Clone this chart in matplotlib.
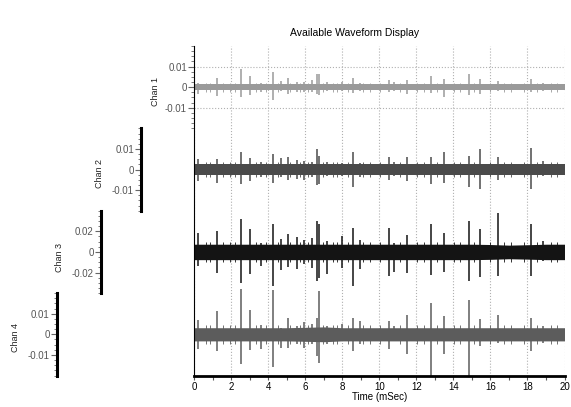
import matplotlib
matplotlib.use('Agg')
from matplotlib import pyplot as plt
from matplotlib.ticker import MultipleLocator, FixedLocator, FixedFormatter

plt.rcParams['font.family'] = ['Liberation Sans', 'DejaVu Sans']
plt.rcParams['axes.unicode_minus'] = False

'''Waveform data read off the display: spike times shared by all channels,
per-channel spike heights (up / down from baseline) and noise envelope'''
spike_t = [0.19, 1.25, 2.55, 3.0, 3.64, 4.29, 4.72, 5.10, 5.57, 5.95, 6.36, 6.63, 6.74, 7.16,
           7.99, 8.58, 8.96, 10.53, 10.80, 11.51, 12.79, 13.51, 14.86, 15.44, 16.40, 18.17, 18.84]

chan1_up = [0.0020, 0.0047, 0.0089, 0.0055, 0.0020, 0.0074, 0.0031, 0.0047, 0.0027, 0.0027, 0.0034, 0.0063, 0.0063, 0.0023,
            0.0023, 0.0047, 0.0020, 0.0036, 0.0027, 0.0036, 0.0055, 0.0042, 0.0063, 0.0042, 0.0031, 0.0042, 0.0020]
chan1_down = [0.0031, 0.0042, 0.0047, 0.0039, 0.0023, 0.0063, 0.0020, 0.0031, 0.0023, 0.0023, 0.0023, 0.0031, 0.0039, 0.0020,
              0.0019, 0.0028, 0.0019, 0.0023, 0.0019, 0.0031, 0.0028, 0.0050, 0.0039, 0.0031, 0.0019, 0.0023, 0.0019]

chan2_up = [0.0051, 0.0051, 0.0086, 0.0056, 0.0035, 0.0075, 0.0054, 0.0062, 0.0046, 0.0043, 0.0035, 0.0098, 0.0067, 0.0035,
            0.0030, 0.0087, 0.0030, 0.0063, 0.0035, 0.0059, 0.0062, 0.0083, 0.0067, 0.0098, 0.0063, 0.0103, 0.0040]
chan2_down = [0.0057, 0.0063, 0.0068, 0.0056, 0.0037, 0.0065, 0.0037, 0.0052, 0.0044, 0.0052, 0.0037, 0.0076, 0.0068, 0.0033,
              0.0033, 0.0087, 0.0037, 0.0052, 0.0033, 0.0056, 0.0071, 0.0065, 0.0087, 0.0095, 0.0049, 0.0095, 0.0033]

chan3_up = [0.0185, 0.0208, 0.0320, 0.0224, 0.0088, 0.0270, 0.0130, 0.0175, 0.0143, 0.0120, 0.0137, 0.0300, 0.0267, 0.0110,
            0.0153, 0.0228, 0.0120, 0.0234, 0.0088, 0.0163, 0.0270, 0.0185, 0.0305, 0.0218, 0.0380, 0.0267, 0.0110]
chan3_down = [0.0140, 0.0205, 0.0300, 0.0215, 0.0140, 0.0335, 0.0180, 0.0150, 0.0170, 0.0120, 0.0156, 0.0286, 0.0250, 0.0215,
              0.0156, 0.0335, 0.0170, 0.0230, 0.0190, 0.0200, 0.0220, 0.0190, 0.0280, 0.0247, 0.0230, 0.0237, 0.0090]

chan4_up = [0.0068, 0.0114, 0.0220, 0.0117, 0.0046, 0.0215, 0.0033, 0.0078, 0.0041, 0.0062, 0.0049, 0.0081, 0.0210, 0.0041,
            0.0052, 0.0081, 0.0065, 0.0065, 0.0041, 0.0093, 0.0150, 0.0089, 0.0166, 0.0073, 0.0093, 0.0081, 0.0041]
chan4_down = [0.0070, 0.0081, 0.0143, 0.0078, 0.0070, 0.0160, 0.0065, 0.0065, 0.0049, 0.0068, 0.0049, 0.0106, 0.0138, 0.0049,
              0.0033, 0.0081, 0.0049, 0.0073, 0.0033, 0.0098, 0.0200, 0.0094, 0.0200, 0.0057, 0.0041, 0.0081, 0.0041]

# small tics poking out of the noise band
minor_t = [0.66, 0.84, 1.56, 1.92, 2.19, 3.37, 3.91, 4.54, 5.17, 5.71, 6.16, 6.98, 7.52, 7.70, 8.33, 9.14,
           9.50, 10.04, 11.13, 12.03, 12.39, 13.11, 14.02, 14.38, 15.10, 16.00, 16.72, 17.09, 17.81, 18.53,
           19.25, 19.61]
chan_minor = [0.0022, 0.0038, 0.0095, 0.0045]

env_t = list(range(21))
chan1_env = [0.0016] * 21
chan2_env = [0.0028] * 21
chan3_env = [0.0075] * 16 + [0.0072, 0.0066, 0.0070, 0.0075, 0.0075]
chan4_env = [0.0032] * 6 + [0.0034, 0.0036] + [0.0032] * 13

chan_names = ['Chan 1', 'Chan 2', 'Chan 3', 'Chan 4']
chan_lims = [0.02, 0.02, 0.04, 0.02]
chan_steps = [0.01, 0.01, 0.02, 0.01]
chan_ticklabels = [['-0.01', '0', '0.01'], ['-0.01', '0', '0.01'], ['-0.02', '0', '0.02'], ['-0.01', '0', '0.01']]
chan_colors = ['#9a9a9a', '#4a4a4a', '#141414', '#5c5c5c']

ups = [chan1_up, chan2_up, chan3_up, chan4_up]
downs = [chan1_down, chan2_down, chan3_down, chan4_down]
envs = [chan1_env, chan2_env, chan3_env, chan4_env]

W, H = 571, 407
fig = plt.figure(figsize=(W / 100, H / 100), dpi=100)

left, right, top, bottom = 194, 564.5, 46, 375.5
ax = fig.add_axes([left / W, (H - bottom) / H, (right - left) / W, (bottom - top) / H])
ax.set_zorder(2)
ax.set_facecolor('none')
ax.set_axisbelow(True)

# each channel is drawn in a band of height 1, scaled to its own range
for k in range(4):
    off = 3.5 - k
    sc = 0.5 / chan_lims[k]
    lo = [off - e * sc for e in envs[k]]
    hi = [off + e * sc for e in envs[k]]
    ax.fill_between(env_t, lo, hi, color=chan_colors[k], lw=0, zorder=2)
    m = chan_minor[k] * sc
    ax.vlines(minor_t, off - m, off + m, color=chan_colors[k], lw=0.6, zorder=2)
    ax.vlines(spike_t, [off - d * sc for d in downs[k]], [off + u * sc for u in ups[k]],
              color=chan_colors[k], lw=1.1, zorder=2)

ax.set_xlim(0, 20)
ax.set_ylim(0, 4)
ax.set_yticks([])
ax.xaxis.set_major_locator(MultipleLocator(2))
ax.xaxis.set_minor_locator(MultipleLocator(1))
ax.tick_params(axis='x', which='major', direction='out', length=3, width=0.8, color='#555555',
               labelsize=7, pad=2)
ax.tick_params(axis='x', which='minor', direction='out', length=3, width=0.8, color='#555555')
ax.grid(True, axis='x', linestyle=':', color='#b0b0b0', lw=0.8)
ax.spines['top'].set_visible(False)
ax.spines['right'].set_visible(False)
ax.spines['bottom'].set_linewidth(2)
ax.spines['left'].set_linewidth(0.8)
ax.set_xlabel('Time (mSec)', fontsize=7, labelpad=0)

fig.text(355 / W, 1 - 33 / H, 'Available Waveform Display', fontsize=7.5, ha='center', va='center')

# side axes for each channel, spines pushed outward
spine_x = [194, 141, 100.5, 56.5]
label_x = [155, 100, 60, 15]
label_y = [92, 173, 258, 337]
band_h = (bottom - top) / 4
for k in range(4):
    b = bottom - (4 - k) * band_h
    cax = fig.add_axes([left / W, (H - b - band_h) / H, (right - left) / W, band_h / H])
    cax.set_zorder(1)
    cax.set_facecolor('none')
    cax.set_xlim(0, 20)
    cax.set_ylim(-chan_lims[k], chan_lims[k])
    cax.set_xticks([])
    for s in ['top', 'right', 'bottom']:
        cax.spines[s].set_visible(False)
    if k == 0:
        cax.spines['left'].set_visible(False)
        cax.grid(True, axis='y', linestyle=':', color='#b0b0b0', lw=0.8)
    else:
        cax.spines['left'].set_position(('outward', (left - spine_x[k]) * 0.72))
        cax.spines['left'].set_linewidth(2.2)
    st = chan_steps[k]
    cax.yaxis.set_major_locator(FixedLocator([-st, 0, st]))
    cax.yaxis.set_major_formatter(FixedFormatter(chan_ticklabels[k]))
    cax.yaxis.set_minor_locator(MultipleLocator(st / 4))
    cax.tick_params(axis='y', which='major', length=4, width=0.8, color='#666666',
                    labelsize=7, labelcolor='#555555', pad=1)
    cax.tick_params(axis='y', which='minor', length=2.2, width=0.6, color='#666666')
    fig.text(label_x[k] / W, 1 - label_y[k] / H, chan_names[k], fontsize=6.5, rotation=90,
             ha='center', va='center', color='#222222')

fig.savefig('out.png', dpi=100)
